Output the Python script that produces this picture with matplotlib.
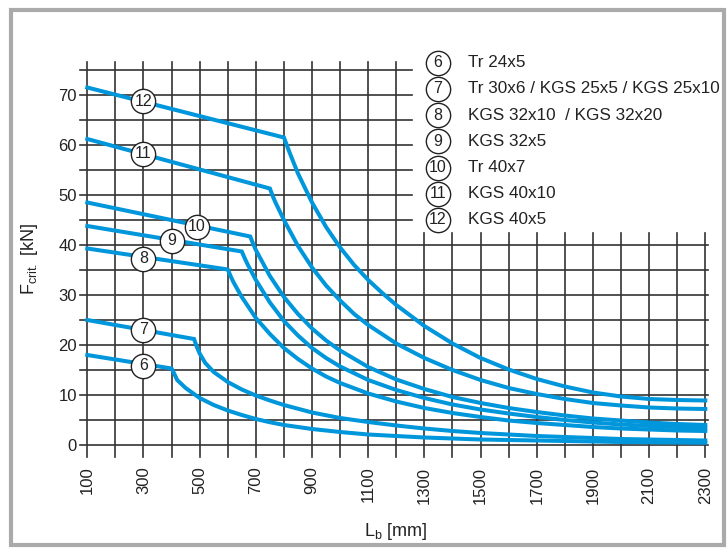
import matplotlib
matplotlib.use("Agg")
import matplotlib.pyplot as plt
from matplotlib.patches import Rectangle

plt.rcParams['font.family'] = ['Liberation Sans', 'DejaVu Sans']
plt.rcParams['mathtext.default'] = 'regular'

# buckling curves, length Lb [mm] -> Fcrit [kN]
len_6 = [100, 400, 410, 420, 450, 500, 550, 600, 650, 700, 750, 800, 900, 1000, 1100,
         1200, 1300, 1400, 1500, 1600, 1700, 1800, 1900, 2000, 2100, 2200, 2300]
f_6 = [18.0, 15.3, 14.2, 13.0, 11.4, 9.4, 8.0, 6.9, 6.0, 5.2, 4.55, 4.0, 3.2, 2.6, 2.1,
       1.8, 1.5, 1.3, 1.1, 1.0, 0.9, 0.8, 0.7, 0.6, 0.55, 0.5, 0.45]

len_7 = [100, 480, 490, 500, 520, 550, 600, 650, 700, 750, 800, 900, 1000, 1100, 1200,
         1300, 1400, 1500, 1600, 1700, 1800, 1900, 2000, 2100, 2200, 2300]
f_7 = [25.0, 21.2, 19.6, 18.3, 16.4, 14.6, 12.6, 11.1, 9.9, 8.9, 8.0, 6.5, 5.4, 4.6, 3.9,
       3.3, 2.8, 2.4, 2.1, 1.8, 1.6, 1.4, 1.2, 1.1, 1.0, 0.9]

len_8 = [100, 600, 610, 620, 650, 700, 750, 800, 850, 900, 950, 1000, 1100, 1200,
         1300, 1400, 1500, 1600, 1700, 1800, 1900, 2000, 2100, 2200, 2300]
f_8 = [39.3, 35.1, 33.8, 32.6, 29.6, 25.4, 22.2, 19.4, 17.2, 15.3, 13.7, 12.4, 10.3, 8.7,
       7.4, 6.4, 5.6, 4.9, 4.4, 4.0, 3.6, 3.3, 3.1, 2.9, 2.8]

len_9 = [100, 650, 660, 670, 700, 750, 800, 850, 900, 950, 1000, 1100, 1200,
         1300, 1400, 1500, 1600, 1700, 1800, 1900, 2000, 2100, 2200, 2300]
f_9 = [43.8, 38.7, 37.4, 36.2, 33.0, 28.5, 24.8, 21.9, 19.4, 17.4, 15.7, 13.0, 11.0,
       9.4, 8.1, 7.1, 6.3, 5.6, 5.0, 4.5, 4.1, 3.8, 3.6, 3.4]

len_10 = [100, 680, 690, 700, 750, 800, 850, 900, 950, 1000, 1100, 1200,
          1300, 1400, 1500, 1600, 1700, 1800, 1900, 2000, 2100, 2200, 2300]
f_10 = [48.5, 41.7, 40.3, 39.0, 33.8, 29.6, 26.2, 23.3, 20.9, 18.9, 15.6, 13.1,
        11.2, 9.6, 8.4, 7.4, 6.6, 5.9, 5.3, 4.9, 4.5, 4.2, 4.0]

len_11 = [100, 750, 760, 770, 800, 850, 900, 950, 1000, 1050, 1100, 1200,
          1300, 1400, 1500, 1600, 1700, 1800, 1900, 2000, 2100, 2200, 2300]
f_11 = [61.2, 51.3, 49.8, 48.5, 45.0, 39.8, 35.5, 31.9, 28.9, 26.2, 24.0, 20.3,
        17.4, 15.0, 13.0, 11.4, 10.2, 9.2, 8.4, 7.9, 7.5, 7.3, 7.2]

len_12 = [100, 800, 810, 820, 850, 900, 950, 1000, 1050, 1100, 1150, 1200,
          1300, 1400, 1500, 1600, 1700, 1800, 1900, 2000, 2100, 2200, 2300]
f_12 = [71.5, 61.5, 60.0, 58.5, 54.3, 48.5, 43.6, 39.5, 36.0, 33.0, 30.4, 28.0,
        23.8, 20.3, 17.4, 15.1, 13.2, 11.7, 10.5, 9.7, 9.2, 9.0, 8.9]

curve_ids = ['6', '7', '8', '9', '10', '11', '12']
curve_names = ['Tr 24x5', 'Tr 30x6 / KGS 25x5 / KGS 25x10', 'KGS 32x10  / KGS 32x20',
               'KGS 32x5', 'Tr 40x7', 'KGS 40x10', 'KGS 40x5']
label_len = [300, 300, 300, 400, 490, 300, 300]
label_f = [15.9, 23.0, 37.3, 40.9, 43.7, 58.2, 68.8]

x_ticks = [100, 300, 500, 700, 900, 1100, 1300, 1500, 1700, 1900, 2100, 2300]
y_ticks = [0, 10, 20, 30, 40, 50, 60, 70]

blue = '#0096db'
grid_c = '#333333'
txt_c = '#222222'

fig = plt.figure(figsize=(7.28, 5.51), dpi=100)
W, H = 728, 551
ax = fig.add_axes([87.3 / W, 1 - 445 / H, 618 / W, 375 / H])
ax.set_xlim(100, 2300)
ax.set_ylim(0, 75)
for s in ax.spines.values():
    s.set_visible(False)

# grid: upper-left block and full-width lower block
for y in range(0, 80, 5):
    x_end = 2310 if y <= 40 else 1255
    ax.plot([74, x_end], [y, y], color=grid_c, lw=1.2, clip_on=False, zorder=1)
for x in range(100, 2400, 100):
    y_top = 76.6 if x <= 1200 else 42.4
    ax.plot([x, x], [-2.3, y_top], color=grid_c, lw=1.2, clip_on=False, zorder=1)

curves = [(len_6, f_6), (len_7, f_7), (len_8, f_8), (len_9, f_9),
          (len_10, f_10), (len_11, f_11), (len_12, f_12)]
for lx, fy in curves:
    ax.plot(lx, fy, color=blue, lw=2.9, solid_joinstyle='miter',
            clip_on=False, zorder=2)

# circled numbers on the curves
for cid, lx, fy in zip(curve_ids, label_len, label_f):
    ax.plot(lx, fy, 'o', ms=17.5, mfc='white', mec=txt_c, mew=1.0, zorder=3)
    ax.text(lx, fy, cid, ha='center', va='center', fontsize=11.5, color=txt_c, zorder=4)

# key at upper right
for i, (cid, name) in enumerate(zip(curve_ids, curve_names)):
    yk = 76.5 - 5.25 * i
    ax.plot(1348, yk, 'o', ms=17.5, mfc='white', mec=txt_c, mew=1.0,
            clip_on=False, zorder=3)
    ax.text(1348, yk, cid, ha='center', va='center', fontsize=11.5, color=txt_c, zorder=4)
    ax.text(1455, yk, name, ha='left', va='center', fontsize=12.3, color=txt_c)

ax.set_xticks(x_ticks)
ax.set_xticklabels([str(v) for v in x_ticks], rotation=90)
ax.set_yticks(y_ticks)
ax.tick_params(axis='x', length=0, pad=15.5, labelsize=12, labelcolor=txt_c)
ax.tick_params(axis='y', length=0, pad=7.5, labelsize=12, labelcolor=txt_c)

fig.text(396 / W, 1 - 532 / H, r'L$_{b}$ [mm]', ha='center', va='center',
         fontsize=13, color=txt_c)
fig.text(30 / W, 1 - 259 / H, r'F$_{crit.}$ [kN]', ha='center', va='center',
         rotation=90, fontsize=13, color=txt_c)

# grey frame around the figure
fig.patches.append(Rectangle((10.5 / W, 1 - 545 / H), (724 - 10.5) / W, (545 - 9.5) / H,
                             transform=fig.transFigure, fill=False,
                             ec='#aaaaaa', lw=3.0))

fig.savefig('out.png', dpi=100)
